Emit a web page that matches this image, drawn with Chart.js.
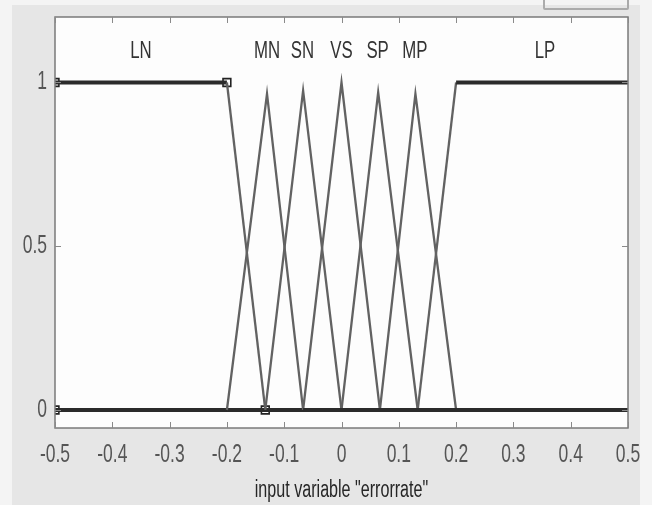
<!DOCTYPE html>
<html>
<head>
<meta charset="utf-8">
<script src="https://cdn.jsdelivr.net/npm/chart.js@4.4.1/dist/chart.umd.min.js"></script>
<style>
  body { margin: 0; background: #f4f4f4; }
  #frame { position: absolute; left: 12px; top: 5px; width: 628px; height: 500px; background: #e6e6e6; }
  #box { position: absolute; left: 543px; top: -3px; width: 82px; height: 9px; border: 2px solid #ababab; border-radius: 2px; }
  #wrap { position: absolute; left: 0; top: 0; width: 652px; height: 505px; }
</style>
</head>
<body>
<div id="frame"></div>
<div id="box"></div>
<div id="wrap"><canvas id="mfChart"></canvas></div>
<script>
// membership functions of input variable "errorrate"
const mfNames = ['LN', 'MN', 'SN', 'VS', 'SP', 'MP', 'LP'];
const mfLabelX = [-0.35, -0.13, -0.068, 0, 0.063, 0.128, 0.355];
const mfLabelY = 1.095;

const lnX = [-0.5, -0.2, -0.133, 0.5];
const lnY = [1, 1, 0, 0];
const mnX = [-0.5, -0.2, -0.13, -0.067, 0.5];
const mnY = [0, 0, 0.965, 0, 0];
const snX = [-0.5, -0.133, -0.067, 0, 0.5];
const snY = [0, 0, 0.975, 0, 0];
const vsX = [-0.5, -0.067, 0, 0.067, 0.5];
const vsY = [0, 0, 1, 0, 0];
const spX = [-0.5, 0, 0.064, 0.133, 0.5];
const spY = [0, 0, 0.97, 0, 0];
const mpX = [-0.5, 0.067, 0.129, 0.2, 0.5];
const mpY = [0, 0, 0.965, 0, 0];
const lpX = [-0.5, 0.133, 0.2, 0.5];
const lpY = [0, 0, 1, 1];

// square markers on the selected MF (LN)
const markX = [-0.5, -0.2, -0.133, -0.5];
const markY = [1, 1, 0, 0];

const xTicks = [-0.5, -0.4, -0.3, -0.2, -0.1, 0, 0.1, 0.2, 0.3, 0.4, 0.5];
const xTickLabels = ['-0.5', '-0.4', '-0.3', '-0.2', '-0.1', '0', '0.1', '0.2', '0.3', '0.4', '0.5'];
const yTicks = [0, 0.5, 1];
const yTickLabels = ['0', '0.5', '1'];
const xTitle = 'input variable "errorrate"';

const FONT = '"Liberation Sans", Arial, sans-serif';
const SQUEEZE = 0.7; // the reference font is a narrow one

function toPoints(xs, ys) {
    return xs.map((x, i) => ({ x: x, y: ys[i] }));
}

function mfDataset(xs, ys) {
    return {
        data: toPoints(xs, ys),
        showLine: true,
        tension: 0,
        pointRadius: 0,
        borderColor: '#626262',
        borderWidth: 2,
        segment: {
            // flat parts look heavier in the reference
            borderWidth: ctx => ctx.p0.parsed.y === ctx.p1.parsed.y ? 4 : 2.3,
            borderColor: ctx => ctx.p0.parsed.y === ctx.p1.parsed.y ? '#2b2b2b' : '#626262'
        }
    };
}

// narrow text: draw squeezed horizontally around (x, y)
function narrowText(ctx, txt, x, y, align) {
    ctx.save();
    ctx.translate(x, y);
    ctx.scale(SQUEEZE, 1);
    ctx.textAlign = align;
    ctx.fillText(txt, 0, 0);
    ctx.restore();
}

const mfPlugin = {
    id: 'mfPlugin',
    beforeDraw(chart) {
        const { ctx, chartArea } = chart;
        ctx.save();
        ctx.fillStyle = '#fdfdfd';
        ctx.fillRect(chartArea.left, chartArea.top, chartArea.right - chartArea.left, chartArea.bottom - chartArea.top);
        ctx.restore();
    },
    afterDraw(chart) {
        const { ctx, chartArea } = chart;
        const xs = chart.scales.x, ys = chart.scales.y;
        ctx.save();
        // frame
        ctx.strokeStyle = '#7a7a7a';
        ctx.lineWidth = 1.5;
        ctx.strokeRect(chartArea.left, chartArea.top, chartArea.right - chartArea.left, chartArea.bottom - chartArea.top);
        // inward ticks
        ctx.lineWidth = 1;
        ctx.strokeStyle = '#8a8a8a';
        ctx.beginPath();
        xTicks.forEach(v => {
            const px = Math.round(xs.getPixelForValue(v)) + 0.5;
            ctx.moveTo(px, chartArea.top); ctx.lineTo(px, chartArea.top + 6);
            ctx.moveTo(px, chartArea.bottom); ctx.lineTo(px, chartArea.bottom - 6);
        });
        yTicks.forEach(v => {
            const py = Math.round(ys.getPixelForValue(v)) + 0.5;
            ctx.moveTo(chartArea.left, py); ctx.lineTo(chartArea.left + 6, py);
            ctx.moveTo(chartArea.right, py); ctx.lineTo(chartArea.right - 6, py);
        });
        ctx.stroke();

        ctx.textBaseline = 'middle';
        // tick labels
        ctx.fillStyle = '#555555';
        ctx.font = '25px ' + FONT;
        xTicks.forEach((v, i) => {
            narrowText(ctx, xTickLabels[i], xs.getPixelForValue(v), chartArea.bottom + 27, 'center');
        });
        yTicks.forEach((v, i) => {
            narrowText(ctx, yTickLabels[i], chartArea.left - 8, ys.getPixelForValue(v), 'right');
        });
        // axis title
        ctx.fillStyle = '#262626';
        ctx.font = '23px ' + FONT;
        narrowText(ctx, xTitle, (chartArea.left + chartArea.right) / 2, 491, 'center');
        // MF names
        ctx.fillStyle = '#333333';
        ctx.font = '24px ' + FONT;
        mfNames.forEach((n, i) => {
            narrowText(ctx, n, xs.getPixelForValue(mfLabelX[i]), ys.getPixelForValue(mfLabelY), 'center');
        });
        ctx.restore();
    }
};

const chart = new Chart(document.getElementById('mfChart').getContext('2d'), {
    type: 'scatter',
    data: {
        datasets: [
            mfDataset(mnX, mnY),
            mfDataset(snX, snY),
            mfDataset(vsX, vsY),
            mfDataset(spX, spY),
            mfDataset(mpX, mpY),
            mfDataset(lpX, lpY),
            mfDataset(lnX, lnY),
            {
                data: toPoints(markX, markY),
                showLine: false,
                pointStyle: 'rect',
                pointRadius: 5.5,
                pointBorderWidth: 1.6,
                pointBorderColor: '#222',
                pointBackgroundColor: '#ffffff'
            }
        ]
    },
    options: {
        responsive: true,
        maintainAspectRatio: false,
        animation: false,
        layout: { padding: { left: 0, top: 17, right: 24, bottom: 0 } },
        plugins: {
            legend: { display: false },
            tooltip: { enabled: false }
        },
        scales: {
            x: {
                type: 'linear',
                min: -0.5,
                max: 0.5,
                grid: { display: false, drawTicks: false },
                border: { display: false },
                ticks: { display: false },
                afterFit: s => { s.height = 77; }
            },
            y: {
                type: 'linear',
                min: -0.055,
                max: 1.2,
                grid: { display: false, drawTicks: false },
                border: { display: false },
                ticks: { display: false },
                afterFit: s => { s.width = 55; }
            }
        }
    },
    plugins: [mfPlugin]
});
</script>
</body>
</html>
